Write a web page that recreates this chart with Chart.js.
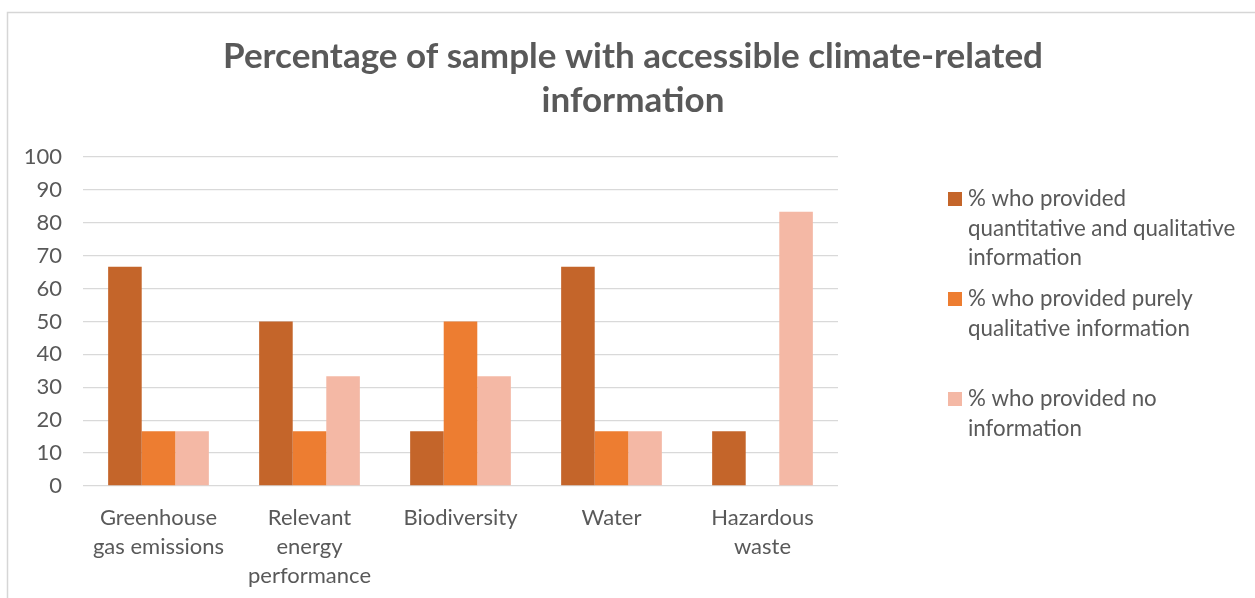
<!DOCTYPE html>
<html>
<head>
<meta charset="utf-8">
<script src="https://cdn.jsdelivr.net/npm/chart.js@4.4.1/dist/chart.umd.min.js"></script>
<style>
  html, body { margin: 0; padding: 0; background: #ffffff; }
  #wrap { width: 1255px; height: 598px; position: relative; }
</style>
</head>
<body>
<div id="wrap"><canvas id="chart" width="1255" height="598"></canvas></div>
<script>
// Categories (x axis, wrapped onto lines)
const categories = [
  ["Greenhouse", "gas emissions"],
  ["Relevant", "energy", "performance"],
  ["Biodiversity"],
  ["Water"],
  ["Hazardous", "waste"]
];

// Series names, split into the lines shown in the legend
const seriesLines = [
  ["% who provided", "quantitative and qualitative", "information"],
  ["% who provided purely", "qualitative information"],
  ["% who provided no", "information"]
];

// Values (% of sample)
const quantAndQual = [66.67, 50, 16.67, 66.67, 16.67];
const purelyQual   = [16.67, 16.67, 50, 16.67, 0];
const noInfo       = [16.67, 33.33, 33.33, 16.67, 83.33];

const seriesColors = ["#C4652A", "#ED7D31", "#F4B8A5"];

const titleLines = ["Percentage of sample with accessible climate-related", "information"];

const FONT = "Lato, 'Open Sans', sans-serif";
const TEXT = "#595959";
const GRID = "#d9d9d9";

// Outer frame of the chart object
const framePlugin = {
  id: "frame",
  beforeDraw(chart) {
    const ctx = chart.ctx;
    ctx.save();
    ctx.fillStyle = "#ffffff";
    ctx.fillRect(0, 0, chart.width, chart.height);
    ctx.strokeStyle = "#d6d6d6";
    ctx.lineWidth = 1.5;
    ctx.strokeRect(7.5, 12.5, chart.width + 20, chart.height + 20);
    ctx.restore();
  }
};

// Right-hand legend with wrapped series names
const sideLegend = {
  id: "sideLegend",
  afterDraw(chart) {
    const ctx = chart.ctx;
    const area = chart.chartArea;
    const boxX = area.right + 110;
    const textX = boxX + 20;
    const firstY = 199;
    const entryGap = 100;
    const lineGap = 29.5;
    ctx.save();
    ctx.font = "22.3px " + FONT;
    ctx.textBaseline = "middle";
    ctx.textAlign = "left";
    chart.data.datasets.forEach((ds, i) => {
      const y = firstY + i * entryGap;
      ctx.fillStyle = ds.backgroundColor;
      ctx.fillRect(boxX, y - 7, 14, 14);
      ctx.fillStyle = TEXT;
      seriesLines[i].forEach((line, j) => {
        ctx.fillText(line, textX, y + j * lineGap);
      });
    });
    ctx.restore();
  }
};

const datasets = [quantAndQual, purelyQual, noInfo].map((vals, i) => ({
  label: seriesLines[i].join(" "),
  data: vals,
  backgroundColor: seriesColors[i],
  borderWidth: 0,
  categoryPercentage: 0.667,
  barPercentage: 1.0
}));

new Chart(document.getElementById("chart"), {
  type: "bar",
  data: { labels: categories, datasets },
  plugins: [framePlugin, sideLegend],
  options: {
    responsive: false,
    animation: false,
    layout: { padding: { left: 11, right: 0, top: 0, bottom: 0 } },
    plugins: {
      legend: { display: false },
      tooltip: { enabled: false },
      title: {
        display: true,
        text: titleLines,
        color: TEXT,
        font: { family: FONT, size: 35, weight: "bold", lineHeight: 1.257 },
        padding: { top: 35, bottom: 34 }
      }
    },
    scales: {
      x: {
        grid: { display: false, drawTicks: false },
        border: { display: false },
        ticks: {
          color: TEXT,
          font: { family: FONT, size: 22, lineHeight: 1.32 },
          padding: 17,
          maxRotation: 0,
          autoSkip: false
        },
        afterFit(s) { s.height = 112; }
      },
      y: {
        min: 0,
        max: 100,
        grid: { color: GRID, lineWidth: 1.3, drawTicks: false },
        border: { display: false },
        ticks: {
          stepSize: 10,
          color: TEXT,
          font: { family: FONT, size: 22 },
          padding: 21
        },
        afterFit(s) { s.width = 72; }
      },
      legendSpace: {
        position: "right",
        min: 0,
        max: 1,
        grid: { display: false, drawTicks: false },
        border: { display: false },
        ticks: { display: false },
        afterFit(s) { s.width = 417; }
      }
    }
  }
});
</script>
</body>
</html>
